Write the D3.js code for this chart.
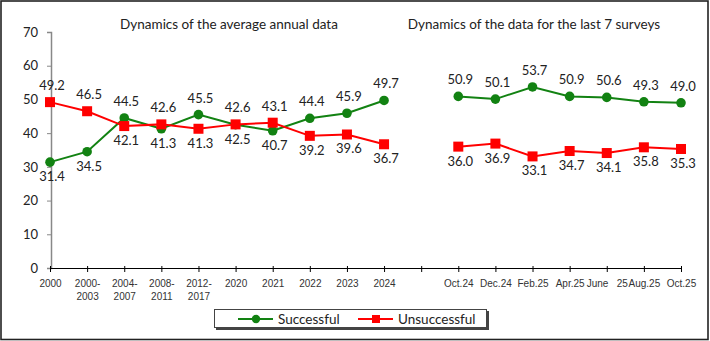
<!DOCTYPE html>
<html>
<head>
<meta charset="utf-8">
<script src="https://cdn.jsdelivr.net/npm/d3@7"></script>
<style>
  body { margin: 0; background: #fff; }
  svg { display: block; font-family: Lato, "Open Sans", sans-serif; }
</style>
</head>
<body>
<script>
var width = 710;
var height = 341;

// categories (blank slot separates the two panels)
var categories = ['2000', '2000-2003', '2004-2007', '2008-2011', '2012-2017', '2020', '2021',
    '2022', '2023', '2024', '', 'Oct.24', 'Dec.24', 'Feb.25', 'Apr.25', 'June 25', 'Aug.25', 'Oct.25'];
var tickLabels = [['2000'], ['2000-', '2003'], ['2004-', '2007'], ['2008-', '2011'], ['2012-', '2017'],
    ['2020'], ['2021'], ['2022'], ['2023'], ['2024'], [''], ['Oct.24'], ['Dec.24'], ['Feb.25'],
    ['Apr.25'], ['June\u00a0\u00a0 25'], ['Aug.25'], ['Oct.25']];
var successful = [31.4, 34.5, 44.5, 41.3, 45.5, 42.5, 40.7, 44.4, 45.9, 49.7, null,
    50.9, 50.1, 53.7, 50.9, 50.6, 49.3, 49.0];
var unsuccessful = [49.2, 46.5, 42.1, 42.6, 41.3, 42.6, 43.1, 39.2, 39.6, 36.7, null,
    36.0, 36.9, 33.1, 34.7, 34.1, 35.8, 35.3];
var yTicks = [0, 10, 20, 30, 40, 50, 60, 70];
var titles = ['Dynamics of the average annual data', 'Dynamics of the data for the last 7 surveys'];

var green = '#128212';
var red = '#ff0000';

var x = d3.scalePoint().domain(categories).range([50, 681]);
var y = d3.scaleLinear().domain([0, 70]).range([268, 32]);

var svg = d3.select('body').append('svg')
    .attr('width', width)
    .attr('height', height);

svg.append('rect')
    .attr('x', 1).attr('y', 1)
    .attr('width', width - 3).attr('height', height - 2.5)
    .attr('fill', '#fff')
    .attr('stroke', '#222')
    .attr('stroke-width', 1.6);

// titles
svg.selectAll('.title')
    .data(titles)
    .enter()
        .append('text')
        .attr('class', 'title')
        .attr('x', function(d, i) { return i === 0 ? 229 : 534; })
        .attr('y', 29)
        .attr('text-anchor', 'middle')
        .attr('font-size', 13.5)
        .attr('fill', '#222')
        .text(function(d) { return d; });

// y axis
var yAxis = d3.axisLeft(y).tickValues(yTicks).tickSize(4).tickPadding(9);
var gy = svg.append('g')
    .attr('transform', 'translate(51,0)')
    .call(yAxis);
gy.select('.domain').attr('stroke', '#888').attr('stroke-width', 1.5);
gy.selectAll('.tick line').attr('stroke', '#888');
gy.selectAll('.tick text').attr('font-size', 13).attr('fill', '#222')
    .attr('font-family', 'Lato, sans-serif');

// x axis
var xAxis = d3.axisBottom(x).tickSize(4).tickFormat('');
var gx = svg.append('g')
    .attr('transform', 'translate(0,268)')
    .call(xAxis);
gx.select('.domain').attr('stroke', '#000').attr('stroke-width', 1.2)
    .attr('d', 'M50,0.5H681');
gx.selectAll('.tick line').attr('stroke', '#000').attr('y1', -2);

gx.selectAll('.tick')
    .data(tickLabels)
    .append('text')
    .attr('fill', '#333')
    .attr('font-size', 10)
    .attr('text-anchor', 'middle')
    .selectAll('tspan')
    .data(function(d) { return d; })
    .enter()
        .append('tspan')
        .attr('x', 0)
        .attr('y', function(d, i) { return 19 + i * 13; })
        .text(function(d) { return d; });

// lines
var rows = categories.map(function(c, i) {
    return { cat: c, s: successful[i], u: unsuccessful[i] };
});

function drawSeries(key, other, color, marker) {
    var line = d3.line()
        .defined(function(d) { return d[key] != null; })
        .x(function(d) { return x(d.cat); })
        .y(function(d) { return y(d[key]); });

    svg.append('path')
        .datum(rows)
        .attr('fill', 'none')
        .attr('stroke', color)
        .attr('stroke-width', 2)
        .attr('d', line);

    var pts = rows.filter(function(d) { return d[key] != null; });
    if (marker === 'circle') {
        svg.selectAll('.m-' + key)
            .data(pts)
            .enter()
                .append('circle')
                .attr('cx', function(d) { return x(d.cat); })
                .attr('cy', function(d) { return y(d[key]); })
                .attr('r', 4.8)
                .attr('fill', color);
    } else {
        svg.selectAll('.m-' + key)
            .data(pts)
            .enter()
                .append('rect')
                .attr('x', function(d) { return x(d.cat) - 5; })
                .attr('y', function(d) { return y(d[key]) - 5; })
                .attr('width', 10)
                .attr('height', 10)
                .attr('fill', color);
    }

    svg.selectAll('.l-' + key)
        .data(pts)
        .enter()
            .append('text')
            .attr('x', function(d) { return x(d.cat) + 2; })
            .attr('y', function(d) {
                var above = d[key] >= d[other];
                return y(d[key]) + (above ? -12 : 19);
            })
            .attr('text-anchor', 'middle')
            .attr('font-size', 13)
            .attr('fill', '#222')
            .text(function(d) { return d[key].toFixed(1); });
}

drawSeries('s', 'u', green, 'circle');
drawSeries('u', 's', red, 'square');

// legend
var legend = svg.append('g');
legend.append('rect')
    .attr('x', 216).attr('y', 311)
    .attr('width', 273).attr('height', 19)
    .attr('fill', '#444');
legend.append('rect')
    .attr('x', 214.5).attr('y', 309.5)
    .attr('width', 272).attr('height', 18)
    .attr('fill', '#fff')
    .attr('stroke', '#444');

var legendItems = [
    { name: 'Successful', color: green, marker: 'circle', x0: 238 },
    { name: 'Unsuccessful', color: red, marker: 'square', x0: 358 }
];
legendItems.forEach(function(d) {
    legend.append('line')
        .attr('x1', d.x0).attr('x2', d.x0 + 35)
        .attr('y1', 319).attr('y2', 319)
        .attr('stroke', d.color).attr('stroke-width', 2);
    if (d.marker === 'circle') {
        legend.append('circle')
            .attr('cx', d.x0 + 18).attr('cy', 319).attr('r', 4.2)
            .attr('fill', d.color);
    } else {
        legend.append('rect')
            .attr('x', d.x0 + 14).attr('y', 315).attr('width', 8).attr('height', 8)
            .attr('fill', d.color);
    }
    legend.append('text')
        .attr('x', d.x0 + 40).attr('y', 324)
        .attr('font-size', 13.5)
        .attr('fill', '#222')
        .text(d.name);
});
</script>
</body>
</html>
